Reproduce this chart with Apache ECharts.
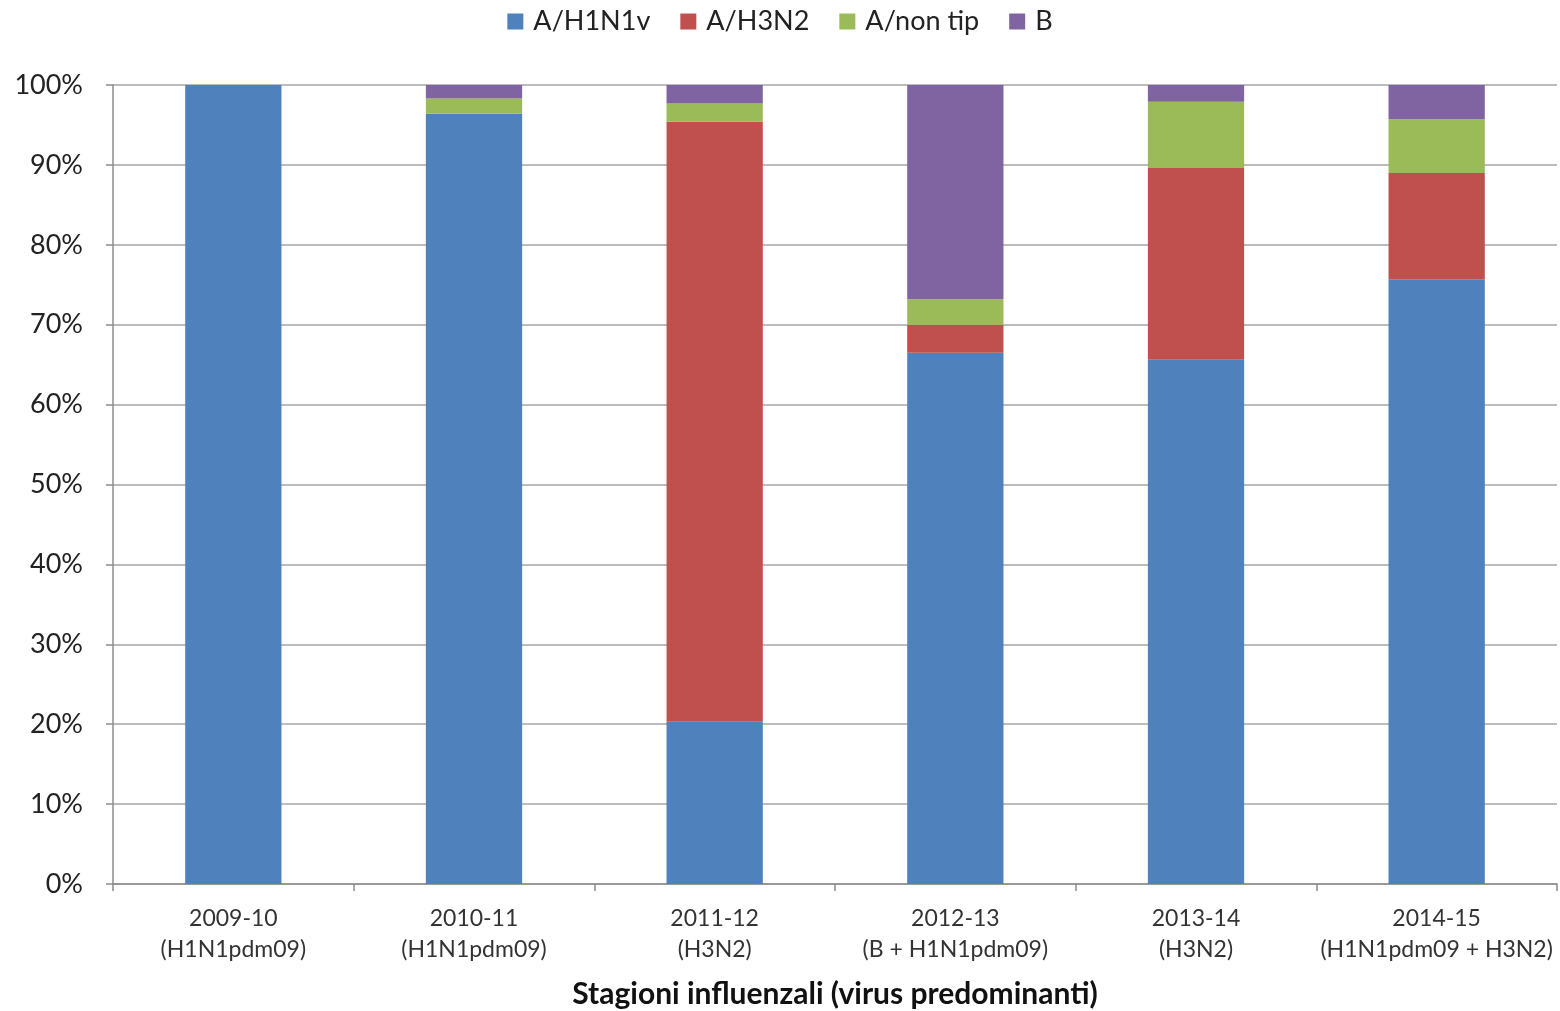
<!DOCTYPE html>
<html>
<head>
<meta charset="utf-8">
<script src="https://cdn.jsdelivr.net/npm/echarts@6/dist/echarts.min.js"></script>
<style>
  html, body { margin: 0; padding: 0; background: #fff; }
  #chart { width: 1560px; height: 1011px; }
</style>
</head>
<body>
<div id="chart"></div>
<script>
// Influenza seasons and the predominant circulating viruses
const seasons = ['2009-10', '2010-11', '2011-12', '2012-13', '2013-14', '2014-15'];
const predominant = ['(H1N1pdm09)', '(H1N1pdm09)', '(H3N2)', '(B + H1N1pdm09)', '(H3N2)', '(H1N1pdm09 + H3N2)'];

// Share of each virus type per season (%)
const h1n1v = [100, 96.4, 20.3, 66.5, 65.6, 75.7];
const h3n2 = [0, 0, 75.1, 3.5, 24.0, 13.3];
const nonTip = [0, 1.9, 2.3, 3.2, 8.3, 6.7];
const typeB = [0, 1.7, 2.3, 26.8, 2.1, 4.3];

const yTicks = [0, 10, 20, 30, 40, 50, 60, 70, 80, 90, 100];

const seriesDefs = [
  { name: 'A/H1N1v', data: h1n1v, color: '#4F81BD' },
  { name: 'A/H3N2', data: h3n2, color: '#C0504D' },
  { name: 'A/non tip', data: nonTip, color: '#9BBB59' },
  { name: 'B', data: typeB, color: '#8064A2' }
];

const font = 'Lato, Open Sans, sans-serif';
const chart = echarts.init(document.getElementById('chart'));

chart.setOption({
  animation: false,
  textStyle: { fontFamily: font },
  legend: {
    top: 3,
    left: 'center',
    itemWidth: 16,
    itemHeight: 16,
    itemGap: 30,
    icon: 'rect',
    textStyle: { fontSize: 27, color: '#222', fontFamily: font, padding: [0, 0, 0, 5] },
    data: seriesDefs.map(s => s.name)
  },
  grid: { left: 113, right: 3, top: 85, bottom: 127, containLabel: false, outerBoundsMode: 'none' },
  xAxis: {
    type: 'category',
    data: seasons,
    boundaryGap: true,
    axisLine: { lineStyle: { color: '#8c8c8c', width: 1.5 } },
    axisTick: { show: true, length: 7, lineStyle: { color: '#8c8c8c', width: 1.5 } },
    axisLabel: {
      interval: 0,
      margin: 19,
      fontSize: 23,
      lineHeight: 31,
      color: '#333',
      formatter: (v, i) => v + '\n' + predominant[i]
    },
    name: 'Stagioni influenzali (virus predominanti)',
    nameLocation: 'middle',
    nameGap: 95,
    nameTextStyle: { fontSize: 30, fontWeight: 'bold', color: '#111', fontFamily: font }
  },
  yAxis: {
    type: 'value',
    min: yTicks[0],
    max: yTicks[yTicks.length - 1],
    interval: 10,
    axisLine: { show: true, lineStyle: { color: '#8c8c8c', width: 1.5 } },
    axisTick: { show: true, inside: false, length: 7, lineStyle: { color: '#8c8c8c', width: 1.5 } },
    splitLine: { lineStyle: { color: '#a6a6a6', width: 1.5 } },
    axisLabel: {
      fontSize: 27,
      color: '#222',
      margin: 30,
      formatter: v => v + '%'
    }
  },
  series: seriesDefs.map(s => ({
    name: s.name,
    type: 'bar',
    stack: 'total',
    barWidth: '40%',
    data: s.data,
    itemStyle: { color: s.color }
  }))
});
</script>
</body>
</html>
